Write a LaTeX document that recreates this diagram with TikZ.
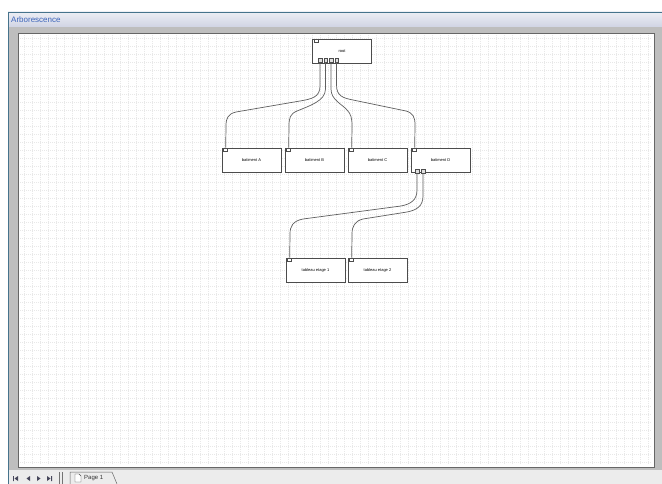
\documentclass[tikz,border=0pt]{standalone}
\usepackage{fontspec}
\setmainfont{Liberation Sans}
\usepackage{tikz}
\usetikzlibrary{positioning, calc}
\definecolor{frgray}{RGB}{190,190,190}
\definecolor{bargray}{RGB}{236,236,236}
\definecolor{ttlblue}{RGB}{60,100,185}
\definecolor{ttlbar}{RGB}{208,212,228}
\definecolor{ttlline}{RGB}{70,115,140}
\definecolor{wiregray}{RGB}{95,95,95}
\definecolor{navdark}{RGB}{70,70,90}
\tikzset{
  box/.style={rectangle, draw=black!70, fill=white,
    minimum width=59pt, minimum height=24pt, inner sep=0pt,
    font=\fontsize{4}{5}\selectfont, line width=0.6pt},
  tag/.style={rectangle, draw=black!70, fill=white,
    minimum width=4pt, minimum height=3pt, inner sep=0pt, line width=0.4pt},
  port/.style={rectangle, draw=black!70, fill=black!12,
    minimum width=3.5pt, minimum height=4pt, inner sep=0pt, line width=0.4pt},
  wire/.style={draw=wiregray, line width=0.7pt},
  gridline/.style={draw=black!9, line width=0.4pt, dash pattern=on 0.5pt off 1.5pt}
}

\begin{document}
\begin{tikzpicture}[x=1pt, y=-1pt]
  \useasboundingbox (0,0) rectangle (662,484);

  % Window frame
  \fill[white] (0,0) rectangle (662,484);
  \fill[frgray] (8,12) rectangle (662,484);
  \shade[top color=ttlbar!40!white, bottom color=ttlbar] (8,12) rectangle (662,27);
  \draw[ttlline, line width=1pt] (8,12.5) -- (662,12.5);
  \draw[ttlline, line width=0.8pt] (8.4,12) -- (8.4,484);
  \node[anchor=west, font=\fontsize{8}{9}\selectfont, text=ttlblue, inner sep=0pt] (title) at (11,19.5) {Arborescence};

  % Canvas with dotted grid
  \draw[draw=black!60, fill=white, line width=0.8pt] (18,33) rectangle (654,467);
  \foreach \gx in {24,32,...,648}
    \draw[gridline] (\gx,35) -- (\gx,465);
  \foreach \gy in {38,46,...,462}
    \draw[gridline] (20,\gy) -- (652,\gy);

  % Bottom bar
  \fill[bargray] (9,470) rectangle (662,484);
  \fill[navdark] (13,476) rectangle (13.8,481) (18,476) -- (14.5,478.5) -- (18,481) -- cycle;
  \fill[navdark] (30,476) -- (26.5,478.5) -- (30,481) -- cycle;
  \fill[navdark] (37,476) -- (40.5,478.5) -- (37,481) -- cycle;
  \fill[navdark] (47,476) -- (50.5,478.5) -- (47,481) -- cycle (51.2,476) rectangle (52,481);
  \draw[black!55, line width=0.6pt] (59,472) -- (59,484) (62,472) -- (62,484);
  \draw[black!60, line width=0.5pt] (70,484) -- (70,472) -- (112,472) -- (117,484);
  \draw[black!70, line width=0.4pt, fill=white] (75,474) -- (79,474) -- (81,476) -- (81,482) -- (75,482) -- cycle;
  \node[anchor=west, font=\fontsize{6}{7}\selectfont, text=black!80, inner sep=0pt] (pagetab) at (84,478.5) {Page 1};

  % Root
  \node[box] (root) at (342,51.5) {root};
  \node[tag, anchor=north west] (tagR) at ([xshift=1.5pt]root.north west) {};
  \node[port] (r1) at (320,60) {};
  \node[port] (r2) at (325.5,60) {};
  \node[port] (r3) at (331,60) {};
  \node[port] (r4) at (336.5,60) {};

  % Buildings
  \node[box] (batA) at (251.5,160) {batiment A};
  \node[box] (batB) at (314.5,160) {batiment B};
  \node[box] (batC) at (377.5,160) {batiment C};
  \node[box] (batD) at (440.5,160) {batiment D};
  \node[tag, anchor=north west] (tagA) at ([xshift=1.5pt]batA.north west) {};
  \node[tag, anchor=north west] (tagB) at ([xshift=1.5pt]batB.north west) {};
  \node[tag, anchor=north west] (tagC) at ([xshift=1.5pt]batC.north west) {};
  \node[tag, anchor=north west] (tagD) at ([xshift=1.5pt]batD.north west) {};
  \node[port] (d1) at (417,171) {};
  \node[port] (d2) at (423,171) {};

  % Floor panels
  \node[box] (tab1) at (315.5,270) {tableau etage 1};
  \node[box] (tab2) at (377.5,270) {tableau etage 2};
  \node[tag, anchor=north west] (tagT1) at ([xshift=1.5pt]tab1.north west) {};
  \node[tag, anchor=north west] (tagT2) at ([xshift=1.5pt]tab2.north west) {};

  % Wire ends
  \coordinate (inA) at ([xshift=4pt]batA.north west);
  \coordinate (inB) at ([xshift=4pt]batB.north west);
  \coordinate (inC) at ([xshift=4pt]batC.north west);
  \coordinate (inD) at ([xshift=4pt]batD.north west);
  \coordinate (inT1) at ([xshift=4pt]tab1.north west);
  \coordinate (inT2) at ([xshift=4pt]tab2.north west);

  % Wires root -> buildings
  \draw[wire] (r1.south) -- (320,86) .. controls (320,97) and (312,99) .. (300,101)
    -- (236,112) .. controls (228,114) and (226,118) .. (226,126) -- (inA);
  \draw[wire] (r2.south) -- (325.5,89) .. controls (325.5,101) and (309,106) .. (297,111)
    .. controls (290,114) and (289,118) .. (289,126) -- (inB);
  \draw[wire] (r3.south) -- (331,89) .. controls (331,100) and (342,104) .. (347,110)
    .. controls (351,114) and (352,118) .. (352,126) -- (inC);
  \draw[wire] (r4.south) -- (336.5,85) .. controls (336.5,96) and (343,98) .. (353,100)
    -- (406,111) .. controls (413,113) and (415,117) .. (415,125) -- (inD);

  % Wires batiment D -> panels
  \draw[wire] (d1.south) -- (417,190) .. controls (417,200) and (411,204) .. (401,206)
    -- (303,219) .. controls (293,221) and (290,226) .. (290,234) -- (inT1);
  \draw[wire] (d2.south) -- (423,196) .. controls (423,206) and (417,210) .. (407,212)
    -- (363,219) .. controls (355,221) and (352,226) .. (352,234) -- (inT2);
\end{tikzpicture}
\end{document}
